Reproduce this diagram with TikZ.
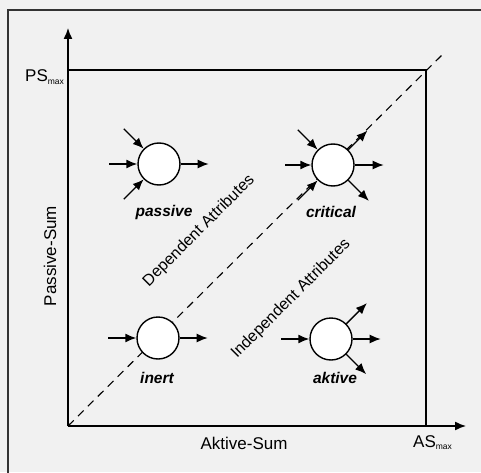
\documentclass[tikz,border=0pt]{standalone}
\usepackage{fontspec}
\setmainfont{Liberation Sans}
\usetikzlibrary{arrows.meta,calc}

\definecolor{bgcol}{HTML}{F1F1F1}
\definecolor{framecol}{HTML}{333333}

\tikzset{
  ln/.style={line width=1.4pt, draw=black},
  arr/.style={ln, -{Latex[length=11pt,width=9pt]}},
  attr/.style={circle, ln, fill=white, minimum size=42pt, inner sep=0pt},
  kind/.style={font=\fontsize{15.5}{16}\selectfont\bfseries\itshape, inner sep=0pt},
  axislabel/.style={font=\fontsize{17}{17}\selectfont, inner sep=0pt},
  region/.style={font=\fontsize{16}{16}\selectfont, inner sep=0pt, rotate=45},
}
\newcommand{\maxsub}{\raisebox{-2.5pt}{\fontsize{8.5}{8.5}\selectfont max}}

\begin{document}
\begin{tikzpicture}[x=1pt,y=1pt]
  % canvas and outer frame
  \fill[bgcol] (0,0) rectangle (481,472);
  \useasboundingbox (0,0) rectangle (481,472);
  \draw[framecol, line width=2pt] (8,-20) -- (8,462) -- (500,462);

  % axes and limits
  \coordinate (O) at (68,46);
  \coordinate (ytip) at (68,444);
  \coordinate (xtip) at (466,46);
  \coordinate (corner) at (426,402);
  \coordinate (dend) at (442,417);
  \draw[arr] (O) -- (ytip);
  \draw[arr] (O) -- (xtip);
  \draw[ln] (O |- corner) -- (corner) -- (corner |- O);
  \draw[line width=1.1pt, dash pattern=on 8pt off 6pt] (O) -- (dend);

  % attribute circles
  \node[attr] (passive)  at (159,308) {};
  \node[attr] (critical) at (333,307) {};
  \node[attr] (inert)    at (158,134) {};
  \node[attr] (aktive)   at (331,133) {};

  % passive: three inputs, one output
  \draw[arr] ($(passive.135)+(135:28)$) -- (passive.135);
  \draw[arr] ($(passive.west)+(-28,0)$) -- (passive.west);
  \draw[arr] ($(passive.225)+(225:28)$) -- (passive.225);
  \draw[arr] (passive.east) -- ++(28,0);

  % critical: three inputs, three outputs
  \draw[arr] ($(critical.135)+(135:28)$) -- (critical.135);
  \draw[arr] ($(critical.west)+(-26,0)$) -- (critical.west);
  \draw[arr] ($(critical.225)+(225:28)$) -- (critical.225);
  \draw[arr] (critical.45) -- ++(45:27);
  \draw[arr] (critical.east) -- ++(29,0);
  \draw[arr] (critical.-45) -- ++(-45:29);

  % inert: one input, one output
  \draw[arr] ($(inert.west)+(-28,0)$) -- (inert.west);
  \draw[arr] (inert.east) -- ++(28,0);

  % aktive: one input, three outputs
  \draw[arr] ($(aktive.west)+(-28,0)$) -- (aktive.west);
  \draw[arr] (aktive.45) -- ++(45:29);
  \draw[arr] (aktive.east) -- ++(28,0);
  \draw[arr] (aktive.-45) -- ++(-45:28);

  % labels
  \node[kind] (lpassive)  at (164,260) {passive};
  \node[kind] (lcritical) at (331,260) {critical};
  \node[kind] (linert)    at (157,94)  {inert};
  \node[kind] (laktive)   at (335,94)  {aktive};

  \node[region] (dep)   at (199,241) {Dependent Attributes};
  \node[region] (indep) at (291,173) {Independent Attributes};

  \node[axislabel, rotate=90] (ps) at (50,216) {Passive-Sum};
  \node[axislabel] (as) at (244,29) {Aktive-Sum};
  \node[axislabel, anchor=base west] (psmax) at (25,390) {PS\maxsub};
  \node[axislabel, anchor=base west] (asmax) at (413,25) {AS\maxsub};
\end{tikzpicture}
\end{document}
